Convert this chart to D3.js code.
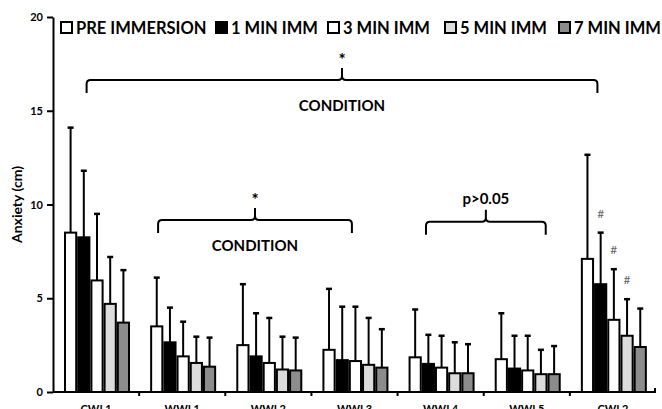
<!DOCTYPE html>
<html>
<head>
<meta charset="utf-8">
<script src="https://cdn.jsdelivr.net/npm/d3@7"></script>
<style>
  body { margin: 0; background: #fff; }
  text { font-family: Lato, "Open Sans", sans-serif; }
</style>
</head>
<body>
<div id="chart"></div>
<script>
const categories = ['CWL1', 'WWL1', 'WWL2', 'WWL3', 'WWL4', 'WWL5', 'CWL2'];
const seriesNames = ['PRE IMMERSION', '1 MIN IMM', '3 MIN IMM', '5 MIN IMM', '7 MIN IMM'];
const seriesColors = ['#ffffff', '#000000', '#ffffff', '#dcdcdc', '#8c8c8c'];

// means (cm)
const preMean  = [8.5, 3.5, 2.5, 2.25, 1.85, 1.75, 7.1];
const min1Mean = [8.25, 2.65, 1.9, 1.7, 1.5, 1.25, 5.75];
const min3Mean = [5.95, 1.9, 1.55, 1.65, 1.3, 1.15, 3.85];
const min5Mean = [4.7, 1.55, 1.2, 1.45, 1.0, 0.95, 3.0];
const min7Mean = [3.7, 1.35, 1.15, 1.3, 1.0, 0.95, 2.4];

// standard deviations
const preSd  = [5.6, 2.6, 3.25, 3.25, 2.55, 2.45, 5.55];
const min1Sd = [3.55, 1.85, 2.3, 2.85, 1.55, 1.75, 2.75];
const min3Sd = [3.55, 1.85, 2.4, 2.9, 1.7, 1.85, 2.7];
const min5Sd = [2.5, 1.4, 1.75, 2.5, 1.65, 1.3, 1.95];
const min7Sd = [2.8, 1.55, 1.75, 2.05, 1.55, 1.5, 2.05];

const yTicks = [0, 5, 10, 15, 20];

// '#' marks on CWL2 (series index)
const hashMarks = [1, 2, 3];

// brackets: [category, fraction of band] for each end, level in data units
const brackets = [
  { from: ['CWL1', 0.39], to: ['CWL2', 0.32], level: 16.64, top: '*', below: 'CONDITION' },
  { from: ['WWL1', 0.22], to: ['WWL3', 0.47], level: 9.17, top: '*', below: 'CONDITION' },
  { from: ['WWL4', 0.33], to: ['WWL5', 0.72], level: 9.08, top: 'p>0.05', below: null }
];

const means = [preMean, min1Mean, min3Mean, min5Mean, min7Mean];
const sds = [preSd, min1Sd, min3Sd, min5Sd, min7Sd];

const W = 662, H = 409;
const margin = { top: 17, right: 6, bottom: 17, left: 53 };

const svg = d3.select('#chart').append('svg')
  .attr('width', W)
  .attr('height', H);

const x0 = d3.scaleBand()
  .domain(categories)
  .range([margin.left, W - margin.right])
  .padding(0);

const x1 = d3.scaleBand()
  .domain(d3.range(seriesNames.length))
  .range([11, 77])
  .padding(0);

const y = d3.scaleLinear()
  .domain([0, 20])
  .range([H - margin.bottom, margin.top]);

// y axis
const yAxis = svg.append('g')
  .attr('transform', `translate(${margin.left},0)`)
  .call(d3.axisLeft(y).tickValues(yTicks).tickSize(6).tickSizeOuter(0).tickPadding(4));
yAxis.select('.domain').attr('stroke-width', 2);
yAxis.selectAll('.tick line').attr('stroke-width', 2);
yAxis.selectAll('.tick text')
  .attr('font-size', 11)
  .attr('font-weight', 'bold')
  .attr('font-family', 'Lato, sans-serif');

svg.append('text')
  .attr('transform', `translate(22,${y(10)}) rotate(-90)`)
  .attr('text-anchor', 'middle')
  .attr('font-size', 14)
  .attr('font-weight', 'bold')
  .text('Anxiety (cm)');

// x axis
const y0 = y(0);
svg.append('line')
  .attr('x1', margin.left).attr('x2', W - margin.right)
  .attr('y1', y0).attr('y2', y0)
  .attr('stroke', '#000').attr('stroke-width', 2);

svg.selectAll('.xtick')
  .data(categories.slice(1).concat(['end']))
  .enter().append('line')
  .attr('class', 'xtick')
  .attr('x1', d => d === 'end' ? W - margin.right - 1 : x0(d))
  .attr('x2', d => d === 'end' ? W - margin.right - 1 : x0(d))
  .attr('y1', y0)
  .attr('y2', d => d === 'end' ? y0 - 4 : y0 + 4)
  .attr('stroke', '#000').attr('stroke-width', 2);

svg.selectAll('.xlabel')
  .data(categories)
  .enter().append('text')
  .attr('class', 'xlabel')
  .attr('x', d => x0(d) + x0.bandwidth() / 2)
  .attr('y', y0 + 21)
  .attr('text-anchor', 'middle')
  .attr('font-size', 11)
  .attr('font-weight', 'bold')
  .text(d => d);

// bars
const cells = [];
categories.forEach((c, ci) => {
  seriesNames.forEach((s, si) => {
    cells.push({ cat: c, si: si, mean: means[si][ci], sd: sds[si][ci] });
  });
});

const groups = svg.append('g');

groups.selectAll('.errbar')
  .data(cells)
  .enter().append('line')
  .attr('class', 'errbar')
  .attr('x1', d => x0(d.cat) + x1(d.si) + x1.bandwidth() / 2)
  .attr('x2', d => x0(d.cat) + x1(d.si) + x1.bandwidth() / 2)
  .attr('y1', d => y(d.mean))
  .attr('y2', d => y(d.mean + d.sd))
  .attr('stroke', '#000').attr('stroke-width', 2);

groups.selectAll('.errcap')
  .data(cells)
  .enter().append('line')
  .attr('class', 'errcap')
  .attr('x1', d => x0(d.cat) + x1(d.si) + x1.bandwidth() / 2 - 3)
  .attr('x2', d => x0(d.cat) + x1(d.si) + x1.bandwidth() / 2 + 3)
  .attr('y1', d => y(d.mean + d.sd))
  .attr('y2', d => y(d.mean + d.sd))
  .attr('stroke', '#000').attr('stroke-width', 2.5);

groups.selectAll('.bar')
  .data(cells)
  .enter().append('rect')
  .attr('class', 'bar')
  .attr('x', d => x0(d.cat) + x1(d.si) + 1)
  .attr('width', x1.bandwidth() - 2)
  .attr('y', d => y(d.mean))
  .attr('height', d => y0 - y(d.mean))
  .attr('fill', d => seriesColors[d.si])
  .attr('stroke', '#000').attr('stroke-width', 2);

// hash marks on CWL2
const lastCat = categories[categories.length - 1];
const lastIdx = categories.length - 1;
svg.selectAll('.hash')
  .data(hashMarks)
  .enter().append('text')
  .attr('class', 'hash')
  .attr('x', si => x0(lastCat) + x1(si) + x1.bandwidth() / 2)
  .attr('y', si => y(means[si][lastIdx] + sds[si][lastIdx]) - 15)
  .attr('text-anchor', 'middle')
  .attr('font-size', 12)
  .attr('fill', '#666')
  .text('#');

// brackets
brackets.forEach(b => {
  const xa = x0(b.from[0]) + b.from[1] * x0.bandwidth();
  const xb = x0(b.to[0]) + b.to[1] * x0.bandwidth();
  const xm = (xa + xb) / 2;
  const yl = y(b.level);
  const r = 4;
  const p = d3.path();
  p.moveTo(xa, yl + 13);
  p.lineTo(xa, yl + r);
  p.quadraticCurveTo(xa, yl, xa + r, yl);
  p.lineTo(xm - r, yl);
  p.quadraticCurveTo(xm, yl, xm, yl - r);
  p.lineTo(xm, yl - 12);
  p.moveTo(xm, yl - r);
  p.quadraticCurveTo(xm, yl, xm + r, yl);
  p.lineTo(xb - r, yl);
  p.quadraticCurveTo(xb, yl, xb, yl + r);
  p.lineTo(xb, yl + 13);
  svg.append('path')
    .attr('d', p.toString())
    .attr('fill', 'none')
    .attr('stroke', '#000')
    .attr('stroke-width', 2);

  const isStar = b.top === '*';
  svg.append('text')
    .attr('x', xm)
    .attr('y', isStar ? yl - 14 : yl - 18)
    .attr('text-anchor', 'middle')
    .attr('font-size', isStar ? 17 : 15)
    .attr('font-weight', 'bold')
    .text(b.top);

  if (b.below) {
    svg.append('text')
      .attr('x', xm)
      .attr('y', yl + 31)
      .attr('text-anchor', 'middle')
      .attr('font-size', 15)
      .attr('font-weight', 'bold')
      .text(b.below);
  }
});

// legend
const legendX = [60, 215, 327, 444, 558];
const legend = svg.selectAll('.legend')
  .data(seriesNames)
  .enter().append('g')
  .attr('class', 'legend')
  .attr('transform', (d, i) => `translate(${legendX[i]},21)`);

legend.append('rect')
  .attr('x', 1).attr('y', 1)
  .attr('width', 11).attr('height', 11)
  .attr('fill', (d, i) => seriesColors[i])
  .attr('stroke', '#000').attr('stroke-width', 2);

legend.append('text')
  .attr('x', 16)
  .attr('y', 12.5)
  .attr('font-size', 16.5)
  .attr('font-weight', 'bold')
  .text(d => d);
</script>
</body>
</html>
